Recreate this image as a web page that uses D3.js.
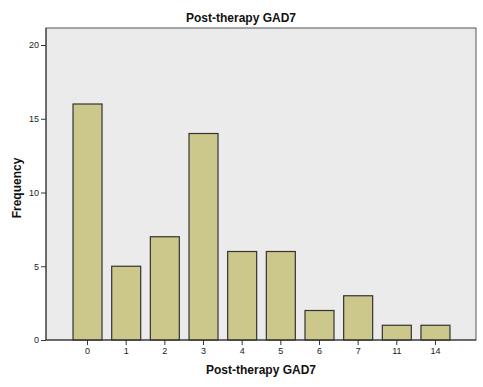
<!DOCTYPE html>
<html><head><meta charset="utf-8">
<script src="https://cdn.jsdelivr.net/npm/d3@7"></script>
<style>body{margin:0;background:#fff}svg{display:block}</style>
</head><body>
<svg id="c" width="483" height="387"></svg>
<script>
const categories = ["0","1","2","3","4","5","6","7","11","14"];
const frequency = [16,5,7,14,6,6,2,3,1,1];
const yTicks = [0,5,10,15,20];

const svg = d3.select("#c");
const font = "Arial, 'Liberation Sans', sans-serif";
const plot = {l:46, t:28, r:476, b:340};

const x = d3.scaleBand().domain(categories).range([68.2, 454.8]).paddingInner(0.25).paddingOuter(0.125);
const y = d3.scaleLinear().domain([0,20]).range([340, 45]);

svg.append("rect").attr("x",plot.l).attr("y",plot.t).attr("width",plot.r-plot.l).attr("height",plot.b-plot.t)
  .attr("fill","#ebebeb").attr("stroke","#555").attr("stroke-width",1);

svg.selectAll("rect.bar").data(frequency).join("rect").attr("class","bar")
  .attr("x",(d,i)=>x(categories[i])).attr("width",x.bandwidth())
  .attr("y",d=>y(d)).attr("height",d=>y(0)-y(d))
  .attr("fill","#ccc78b").attr("stroke","#333").attr("stroke-width",1.2);

const yAxis = svg.append("g").attr("transform",`translate(${plot.l},0)`)
  .call(d3.axisLeft(y).tickValues(yTicks).tickSize(5).tickSizeOuter(0).tickPadding(2));
const xAxis = svg.append("g").attr("transform",`translate(0,${plot.b})`)
  .call(d3.axisBottom(x).tickSize(5).tickSizeOuter(0).tickPadding(3));
[yAxis,xAxis].forEach(a=>{
  a.select(".domain").remove();
  a.selectAll(".tick line").attr("stroke","#333");
  a.selectAll(".tick text").attr("font-family",font).attr("font-size",9).attr("fill","#222");
});
svg.append("line").attr("x1",plot.l).attr("x2",plot.r).attr("y1",plot.b).attr("y2",plot.b).attr("stroke","#333");
svg.append("line").attr("x1",plot.l).attr("x2",plot.l).attr("y1",plot.t).attr("y2",plot.b).attr("stroke","#333");

svg.append("text").attr("x",241).attr("y",22).attr("text-anchor","middle")
  .attr("font-family",font).attr("font-size",12).attr("font-weight","bold").attr("fill","#111").text("Post-therapy GAD7");
svg.append("text").attr("x",261).attr("y",374).attr("text-anchor","middle")
  .attr("font-family",font).attr("font-size",12).attr("font-weight","bold").attr("fill","#111").text("Post-therapy GAD7");
svg.append("text").attr("transform","translate(21,188) rotate(-90)").attr("text-anchor","middle")
  .attr("font-family",font).attr("font-size",12).attr("font-weight","bold").attr("fill","#111").text("Frequency");
</script>
</body></html>
